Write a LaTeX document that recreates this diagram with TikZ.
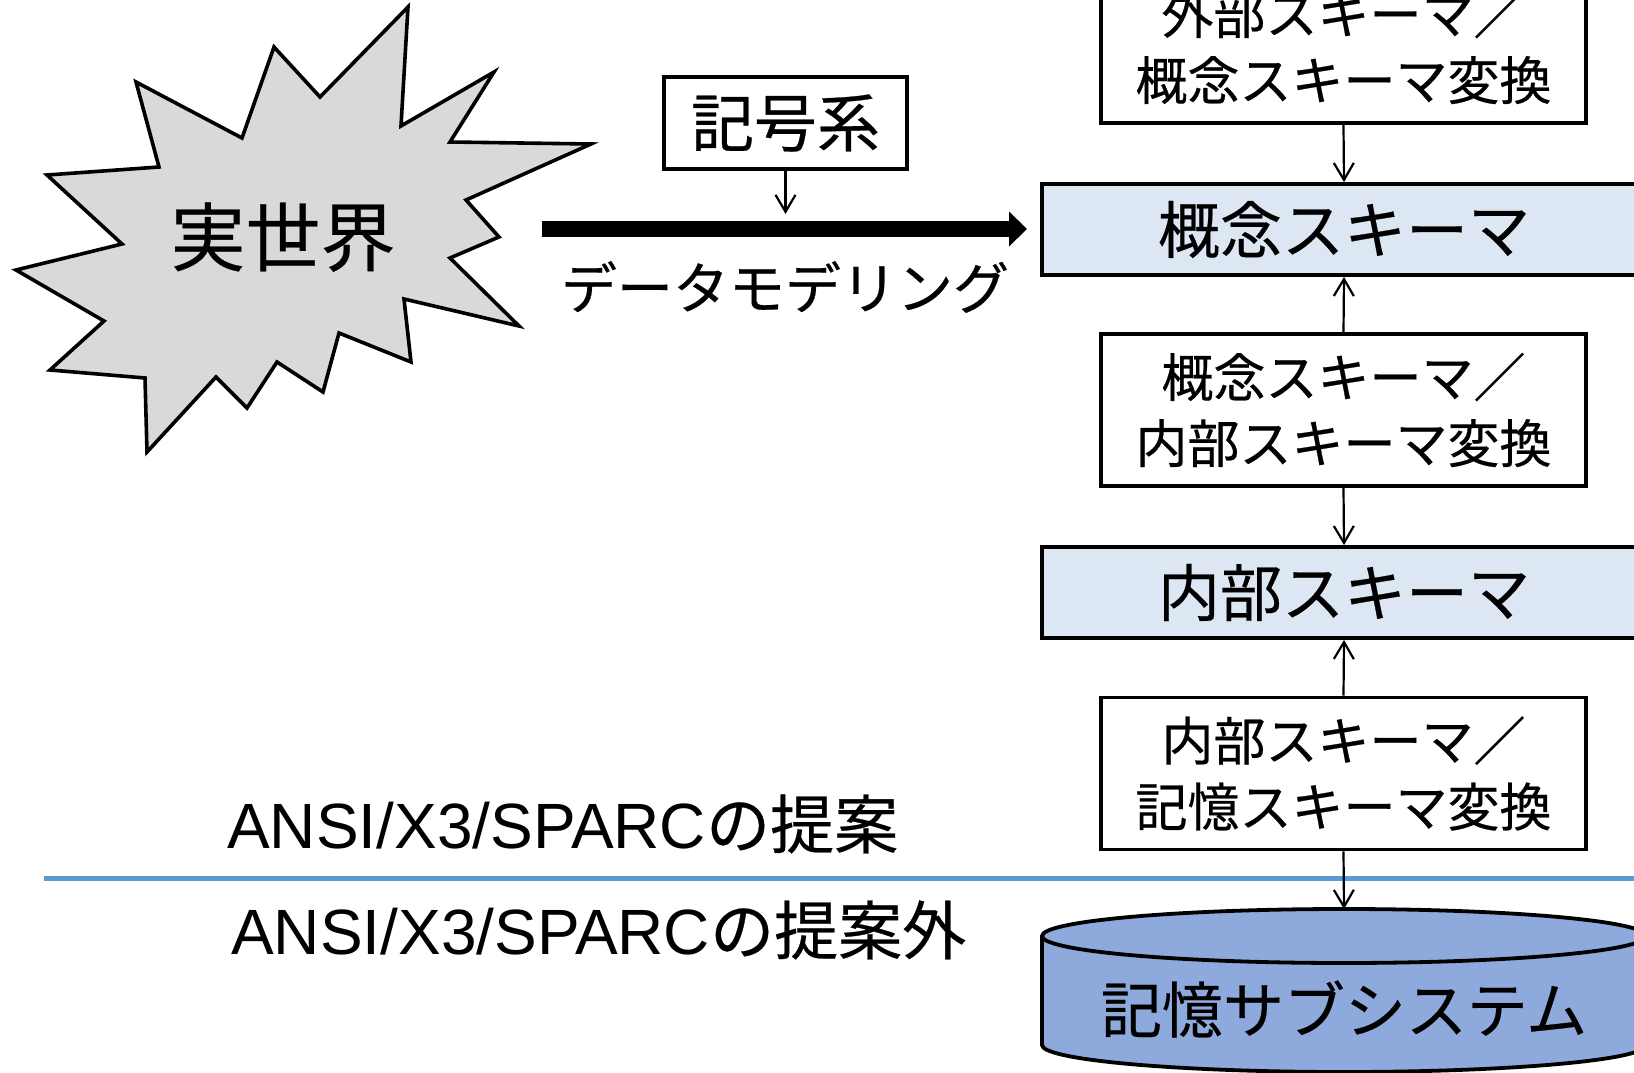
\documentclass[tikz,border=0pt]{standalone}
\usepackage{fontspec}
\setmainfont{Liberation Sans}
\newfontfamily\jp[FakeBold=0.4]{Noto Sans CJK JP}
\usetikzlibrary{arrows.meta}
\definecolor{burstgray}{HTML}{D9D9D9}
\definecolor{lightblue}{HTML}{DDE7F3}
\definecolor{cylblue}{HTML}{8EA9DB}
\definecolor{lineblue}{HTML}{5B9BD5}
\tikzset{
  convbox/.style={draw, line width=3.8pt, fill=white, minimum width=485pt, minimum height=152pt,
    align=center, inner sep=0pt, font=\jp\fontsize{52}{66}\selectfont},
  schemabox/.style={draw, line width=3.8pt, fill=lightblue, minimum width=604pt, minimum height=91pt,
    inner sep=0pt, font=\jp\fontsize{62}{62}\selectfont},
  thinarrow/.style={line width=2.2pt, -{Straight Barb[length=17pt,width=20pt,line width=2.2pt]}},
  bigarrow/.style={line width=16pt, -{Triangle[length=18pt,width=34pt]}},
  labeltext/.style={inner sep=0pt, anchor=west, font=\fontsize{64}{64}\selectfont},
}
\begin{document}
\begin{tikzpicture}[x=1pt,y=-1pt]
\useasboundingbox (0,0) rectangle (1634,1073);
\clip (0,0) rectangle (1634,1073);

% starburst
\draw[line width=3.6pt, fill=burstgray, line join=miter]
  (408,7) -- (401,126) -- (494,72) -- (450,142) -- (591,144) -- (466,200)
  -- (499,237) -- (450,258) -- (519,326) -- (404,299) -- (411,362) -- (339,333)
  -- (323,392) -- (277,362) -- (247,408) -- (216,377) -- (147,452) -- (145,378)
  -- (50,370) -- (104,321) -- (16,270) -- (122,244) -- (47,175) -- (159,167)
  -- (136,82) -- (242,138) -- (274,47) -- (320,97) -- cycle;
\node[inner sep=0pt, font=\jp\fontsize{75}{75}\selectfont] (world) at (283,237) {実世界};

% divider line
\draw[lineblue, line width=5pt] (44,878) -- (1634,878);

% symbol system box
\node[draw, line width=3.8pt, minimum width=243pt, minimum height=92pt, inner sep=0pt,
  font=\jp\fontsize{63}{63}\selectfont] (sym) at (785.5,123) {記号系};
\coordinate (symend) at (785.5,214);
\draw[thinarrow] (sym.south) -- (symend);

% data modelling arrow
\coordinate (dmstart) at (542,229);
\coordinate (dmend) at (1027,229);
\draw[bigarrow] (dmstart) -- (dmend);
\node[inner sep=0pt, font=\jp\fontsize{56}{56}\selectfont] (dm) at (785,287) {データモデリング};

% right column
\node[convbox] (ext2con) at (1343.5,47) {外部スキーマ／\\概念スキーマ変換};
\node[schemabox] (con) at (1344,229.5) {概念スキーマ};
\node[convbox] (con2int) at (1343.5,410) {概念スキーマ／\\内部スキーマ変換};
\node[schemabox] (int) at (1344,592.5) {内部スキーマ};
\node[convbox] (int2sto) at (1343.5,773.5) {内部スキーマ／\\記憶スキーマ変換};

% cylinder
\filldraw[fill=cylblue, line width=3.8pt]
  (1042,936) -- (1042,1045) arc[start angle=180, end angle=0, x radius=302, y radius=27]
  -- (1646,936) arc[start angle=0, end angle=-180, x radius=302, y radius=27] -- cycle;
\draw[line width=3.8pt] (1042,936) arc[start angle=180, end angle=0, x radius=302, y radius=27];
\coordinate (cyltop) at (1344,909);
\node[inner sep=0pt, font=\jp\fontsize{61}{61}\selectfont] (sto) at (1344,1009) {記憶サブシステム};

% connectors
\draw[thinarrow] (ext2con.south) -- (con.north);
\draw[thinarrow] (con2int.north) -- (con.south);
\draw[thinarrow] (con2int.south) -- (int.north);
\draw[thinarrow] (int2sto.north) -- (int.south);
\draw[thinarrow] (int2sto.south) -- (cyltop);

% labels
\node[labeltext] (ansiin) at (227,824) {ANSI/X3/SPARC{\jp の提案}};
\node[labeltext] (ansiout) at (231,930) {ANSI/X3/SPARC{\jp の提案外}};
\end{tikzpicture}
\end{document}
